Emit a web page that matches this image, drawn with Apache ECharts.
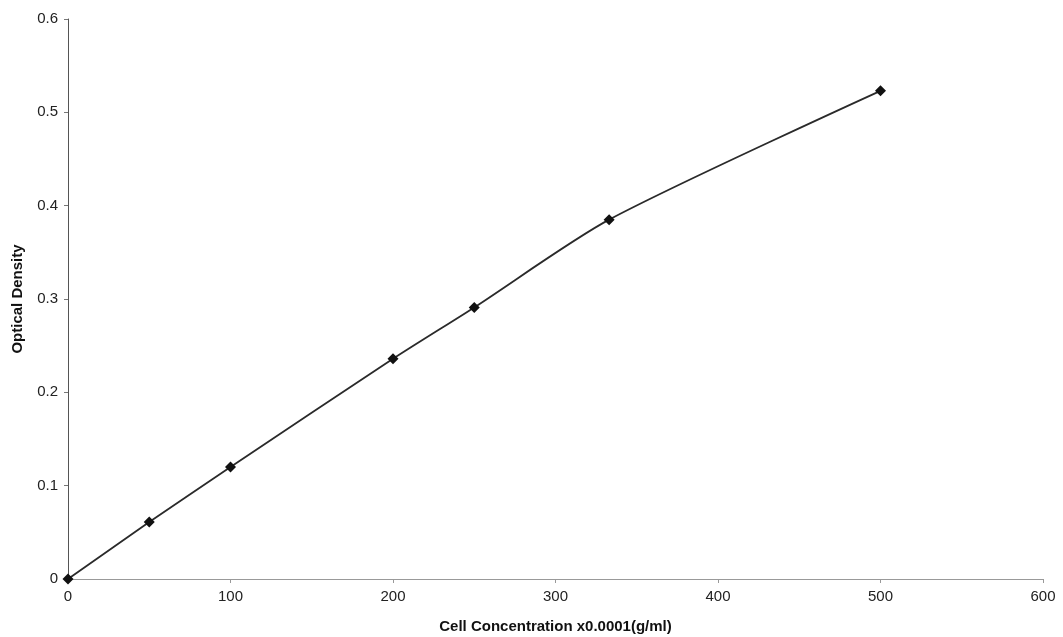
<!DOCTYPE html>
<html>
<head>
<meta charset="utf-8">
<script src="https://cdn.jsdelivr.net/npm/echarts@6/dist/echarts.min.js"></script>
<style>
  html, body { margin: 0; padding: 0; background: #fff; }
  #chart { width: 1063px; height: 637px; }
</style>
</head>
<body>
<div id="chart"></div>
<script>
// Standard curve: cell concentration vs. optical density
const concentration = [0, 50, 100, 200, 250, 333, 500];
const opticalDensity = [0, 0.061, 0.120, 0.236, 0.291, 0.385, 0.523];

const xTitle = 'Cell Concentration x0.0001(g/ml)';
const yTitle = 'Optical Density';

const points = concentration.map((c, i) => [c, opticalDensity[i]]);

const chart = echarts.init(document.getElementById('chart'));
const font = 'Liberation Sans, Arial, sans-serif';

chart.setOption({
  animation: false,
  backgroundColor: '#ffffff',
  grid: { left: 68, right: 20, top: 19, bottom: 58, containLabel: false, outerBoundsMode: 'none' },
  xAxis: {
    type: 'value',
    min: 0, max: 600, interval: 100,
    name: xTitle,
    nameLocation: 'middle',
    nameGap: 40,
    nameTextStyle: { fontFamily: font, fontSize: 15, fontWeight: 'bold', color: '#111' },
    axisLine: { show: true, lineStyle: { color: '#999', width: 1 } },
    axisTick: { show: true, inside: false, length: 4, lineStyle: { color: '#999' } },
    axisLabel: { fontFamily: font, fontSize: 15, color: '#222', margin: 10 },
    splitLine: { show: false }
  },
  yAxis: {
    type: 'value',
    min: 0, max: 0.6, interval: 0.1,
    name: yTitle,
    nameLocation: 'middle',
    nameGap: 43,
    nameRotate: 90,
    nameTextStyle: { fontFamily: font, fontSize: 15, fontWeight: 'bold', color: '#111' },
    axisLine: { show: true, lineStyle: { color: '#555', width: 1 } },
    axisTick: { show: true, inside: false, length: 4, lineStyle: { color: '#777' } },
    axisLabel: { fontFamily: font, fontSize: 15, color: '#222', margin: 10,
      formatter: v => (v === 0 ? '0' : v.toFixed(1)) },
    splitLine: { show: false }
  },
  series: [{
    type: 'line',
    data: points,
    smooth: 0.25,
    symbol: 'diamond',
    symbolSize: 11,
    lineStyle: { color: '#2a2a2a', width: 1.8 },
    itemStyle: { color: '#111' },
    clip: false
  }]
});
</script>
</body>
</html>
